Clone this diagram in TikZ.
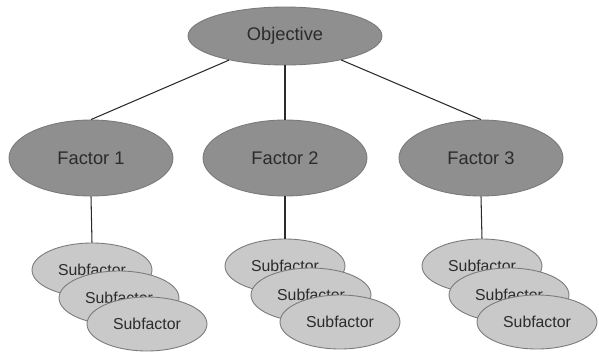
\documentclass[tikz,border=0pt]{standalone}
\usepackage{fontspec}
\setmainfont{Liberation Sans}
\usetikzlibrary{shapes.geometric}
\definecolor{rimgray}{HTML}{7A7A7A}
\definecolor{topfill}{HTML}{8F8F8F}
\definecolor{subfill}{HTML}{C9C9C9}
\definecolor{inkgray}{HTML}{2B2B2B}
\begin{document}
\begin{tikzpicture}[x=0.02cm, y=-0.02cm,
  bubble/.style={ellipse, draw=rimgray, line width=0.5pt, text=inkgray, inner sep=0pt},
  goal/.style={bubble, fill=topfill, minimum width=3.88cm, minimum height=1.16cm, font=\fontsize{10.4}{12}\selectfont},
  factor/.style={bubble, fill=topfill, minimum width=3.28cm, minimum height=1.52cm, font=\fontsize{10.4}{12}\selectfont},
  subfactor/.style={bubble, fill=subfill, minimum width=2.4cm, minimum height=1.08cm, font=\fontsize{9}{11}\selectfont},
  link/.style={draw=inkgray, line width=0.6pt}]
  \useasboundingbox (0,0) rectangle (599,356);

  \node[goal] (obj) at (285,36) {Objective};

  \node[factor] (f1) at (91,158) {Factor 1};
  \node[factor] (f2) at (285,158) {Factor 2};
  \node[factor] (f3) at (481,158) {Factor 3};

  \draw[link] (obj) -- (f1.north); %A: Objective to factors
  \draw[link] (obj) -- (f2.north);
  \draw[link] (obj) -- (f3.north);

  \node[subfactor] (s11) at (92,270) {Subfactor}; %A: Stacks, back to front
  \node[subfactor] (s12) at (119,298) {Subfactor};
  \node[subfactor] (s13) at (147,324) {Subfactor};

  \node[subfactor] (s21) at (285,266) {Subfactor};
  \node[subfactor] (s22) at (311,295) {Subfactor};
  \node[subfactor] (s23) at (340,322) {Subfactor};

  \node[subfactor] (s31) at (482,266) {Subfactor};
  \node[subfactor] (s32) at (509,295) {Subfactor};
  \node[subfactor] (s33) at (537,322) {Subfactor};

  \draw[link] (f1.south) -- (s11.north); %A: Factors down to their stacks
  \draw[link] (f2.south) -- (s21.north);
  \draw[link] (f3.south) -- (s31.north);
\end{tikzpicture}
\end{document}
